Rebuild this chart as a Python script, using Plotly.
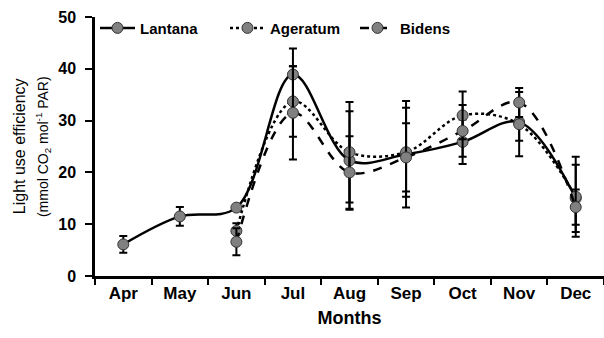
import plotly.graph_objects as go

months = ["Apr", "May", "Jun", "Jul", "Aug", "Sep", "Oct", "Nov", "Dec"]

lantana = [6.1, 11.5, 13.2, 38.9, 22.3, 23.5, 25.9, 29.7, 15.0]
lantana_err = [1.6, 1.8, 0.5, 5.0, 9.5, 10.3, 4.3, 3.6, 6.5]

ageratum = [None, None, 8.7, 33.7, 23.9, 23.9, 31.0, 29.3, 15.3]
ageratum_err = [None, None, 1.5, 6.8, 9.7, 8.6, 4.6, 6.2, 7.7]

bidens = [None, None, 6.6, 31.5, 20.0, 22.9, 28.0, 33.5, 13.3]
bidens_err = [None, None, 2.6, 9.0, 7.0, 6.6, 5.0, 2.8, 3.4]

series = [
    ("Lantana", lantana, lantana_err, "solid"),
    ("Ageratum", ageratum, ageratum_err, "dot"),
    ("Bidens", bidens, bidens_err, "dash"),
]

fig = go.Figure()
for name, vals, errs, dash in series:
    fig.add_trace(go.Scatter(
        x=months, y=vals, name=name, mode="lines+markers",
        line=dict(color="black", width=2.5, dash=dash, shape="spline", smoothing=1.0),
        marker=dict(symbol="circle", size=11, color="#808080",
                    line=dict(color="#333333", width=1)),
        error_y=dict(type="data", array=errs, visible=True,
                     color="black", thickness=2, width=4),
        connectgaps=False,
    ))

font_family = "Liberation Sans, Arial, sans-serif"

fig.update_layout(
    width=604, height=338,
    margin=dict(l=95, r=0, t=17, b=62),
    paper_bgcolor="white", plot_bgcolor="white",
    font=dict(family=font_family, color="black", size=15),
    showlegend=True,
    legend=dict(orientation="h", x=0, xanchor="left", y=0.957, yanchor="middle",
                font=dict(size=15, family=font_family, color="black", weight="bold"),
                bgcolor="rgba(0,0,0,0)", itemwidth=35,
                entrywidth=80, entrywidthmode="pixels"),
    xaxis=dict(
        type="category", categoryorder="array", categoryarray=months,
        range=[-0.5, 8.5],
        showline=True, linecolor="black", linewidth=2.5,
        ticks="outside", tickson="boundaries", ticklen=6, tickwidth=2, tickcolor="black",
        showgrid=False, zeroline=False,
        tickfont=dict(size=17, weight="bold"),
        title=dict(text="<b>Months</b>", font=dict(size=18), standoff=10),
    ),
    yaxis=dict(
        range=[0, 50], tickvals=[0, 10, 20, 30, 40, 50],
        showline=True, linecolor="black", linewidth=2.5,
        ticks="outside", ticklen=7, tickwidth=2, tickcolor="black",
        showgrid=False, zeroline=False,
        tickfont=dict(size=16, weight="bold"),
        ticklabelstandoff=6,
    ),
    annotations=[
        dict(text="Light use efficiency", textangle=-90, xref="paper", yref="paper",
             x=-0.148, y=0.5, xanchor="center", yanchor="middle", showarrow=False,
             font=dict(size=16, color="black")),
        dict(text="(mmol CO<sub>2</sub> mol<sup>-1</sup> PAR)", textangle=-90,
             xref="paper", yref="paper",
             x=-0.103, y=0.5, xanchor="center", yanchor="middle", showarrow=False,
             font=dict(size=14, color="black")),
    ],
)

fig.write_html("out.html")
